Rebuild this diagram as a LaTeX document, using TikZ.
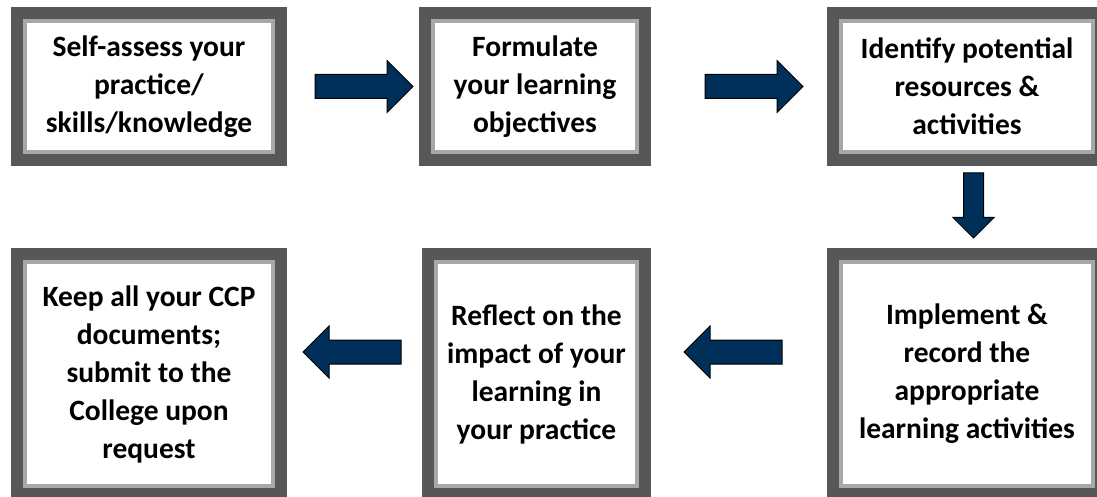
\documentclass[tikz,border=0pt]{standalone}
\usepackage{fontspec}
\setmainfont{Carlito}
\usepackage{tikz}
\usetikzlibrary{shapes.arrows,calc}
\definecolor{frame_dark}{RGB}{86,87,89}
\definecolor{frame_light}{RGB}{166,168,170}
\definecolor{arrow_blue}{RGB}{0,48,90}
\begin{document}
\begin{tikzpicture}[x=1pt,y=-1pt]
    \tikzstyle{stepbox}=[draw=frame_light,line width=4pt,fill=white,inner sep=0pt,align=center,
                         font=\fontsize{29.5}{38}\selectfont\bfseries,
                         preaction={draw=frame_dark,line width=28pt}]
    \tikzstyle{flowarrow}=[single arrow,draw=black,line width=1pt,fill=arrow_blue,inner sep=11.5pt,
                           minimum height=98pt,single arrow head extend=14pt]
    \tikzstyle{downarrow}=[style=flowarrow,inner sep=9.5pt,minimum height=65pt,
                           single arrow head extend=10.5pt,rotate=-90]

    \useasboundingbox (0,0) rectangle (1097,497);

    \node[stepbox,minimum width=248pt,minimum height=131pt] (assess)    at (149,86.5)  {Self-assess your\\practice/\\skills/knowledge};
    \node[stepbox,minimum width=204pt,minimum height=131pt] (formulate) at (535,86.5)  {Formulate\\your learning\\objectives};
    \node[stepbox,minimum width=252pt,minimum height=131pt] (identify)  at (967,86.5)  {Identify potential\\resources \&\\activities};
    \node[stepbox,minimum width=252pt,minimum height=224pt] (implement) at (967,374)   {Implement \&\\record the\\appropriate\\learning activities};
    \node[stepbox,minimum width=201pt,minimum height=224pt] (reflect)   at (536.5,374) {Reflect on the\\impact of your\\learning in\\your practice};
    \node[stepbox,minimum width=248pt,minimum height=224pt] (keep)      at (149,374)   {Keep all your CCP\\documents;\\submit to the\\College upon\\request};

    \node[flowarrow]           (a1) at ($(assess.east)!0.5!(formulate.west)+(5,0)$)     {};
    \node[flowarrow]           (a2) at ($(formulate.east)!0.5!(identify.west)+(9,0)$)   {};
    \node[downarrow]           (a3) at ($(identify.south)!0.5!(implement.north)+(6.5,-6.5)$) {};
    \node[flowarrow,rotate=180] (a4) at ($(implement.west)!0.5!(reflect.east)+(0,-22)$) {};
    \node[flowarrow,rotate=180] (a5) at ($(reflect.west)!0.5!(keep.east)+(3.5,-22)$)    {};
\end{tikzpicture}
\end{document}
